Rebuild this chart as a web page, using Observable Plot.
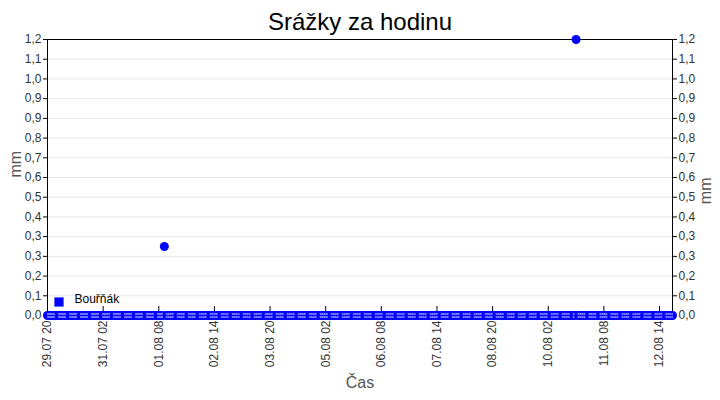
<!DOCTYPE html>
<html>
<head>
<meta charset="utf-8">
<script src="https://cdn.jsdelivr.net/npm/d3@7"></script>
<script src="https://cdn.jsdelivr.net/npm/@observablehq/plot@0.6"></script>
<style>
  body { margin: 0; background: white; font-family: "Liberation Sans", Arial, sans-serif; }
  #title { height: 30px; line-height: 44px; text-align: center; font-size: 24px; color: #000; overflow: visible; }
</style>
</head>
<body>
<div id="title">Srážky za hodinu</div>
<div id="chart"></div>
<script>
const seriesName = 'Bouřňák'
const startHour = '2024-07-29T20:00:00Z'
// hodinové srážky v mm, jeden řádek = jeden den
const rainMm = [
  0,0,0,0, // 29.07 20-23
  0,0,0,0,0,0,0,0,0,0,0,0,0,0,0,0,0,0,0,0,0,0,0,0, // 30.07
  0,0,0,0,0,0,0,0,0,0,0,0,0,0,0,0,0,0,0,0,0,0,0,0, // 31.07
  0,0,0,0,0,0,0,0,0,0,0,0.3,0,0,0,0,0,0,0,0,0,0,0,0, // 01.08
  0,0,0,0,0,0,0,0,0,0,0,0,0,0,0,0,0,0,0,0,0,0,0,0, // 02.08
  0,0,0,0,0,0,0,0,0,0,0,0,0,0,0,0,0,0,0,0,0,0,0,0, // 03.08
  0,0,0,0,0,0,0,0,0,0,0,0,0,0,0,0,0,0,0,0,0,0,0,0, // 04.08
  0,0,0,0,0,0,0,0,0,0,0,0,0,0,0,0,0,0,0,0,0,0,0,0, // 05.08
  0,0,0,0,0,0,0,0,0,0,0,0,0,0,0,0,0,0,0,0,0,0,0,0, // 06.08
  0,0,0,0,0,0,0,0,0,0,0,0,0,0,0,0,0,0,0,0,0,0,0,0, // 07.08
  0,0,0,0,0,0,0,0,0,0,0,0,0,0,0,0,0,0,0,0,0,0,0,0, // 08.08
  0,0,0,0,0,0,0,0,0,0,0,0,0,0,0,0,0,0,0,0,0,0,0,0, // 09.08
  0,0,0,0,0,0,0,0,0,0,0,0,0,0,0,0,0,1.2,0,0,0,0,0,0, // 10.08
  0,0,0,0,0,0,0,0,0,0,0,0,0,0,0,0,0,0,0,0,0,0,0,0, // 11.08
  0,0,0,0,0,0,0,0,0,0,0,0,0,0,0,0,0,0,0,0,0,0 // 12.08 00-21
]
const xTickDates = ['2024-07-29T20:00Z', '2024-07-31T02:00Z', '2024-08-01T08:00Z', '2024-08-02T14:00Z',
  '2024-08-03T20:00Z', '2024-08-05T02:00Z', '2024-08-06T08:00Z', '2024-08-07T14:00Z',
  '2024-08-08T20:00Z', '2024-08-10T02:00Z', '2024-08-11T08:00Z', '2024-08-12T14:00Z']
// 15 značek na ose (popisky zaokrouhlené na 1 desetinné místo)
const yTicks = [0, 0.0857, 0.1714, 0.2571, 0.3429, 0.4286, 0.5143, 0.6, 0.6857, 0.7714, 0.8571, 0.9429, 1.0286, 1.1143, 1.2]

const t0 = Date.parse(startHour)
const data = rainMm.map((v, i) => ({t: new Date(t0 + i * 3600e3), v}))
const xTicks = xTickDates.map(s => new Date(s))
const fmtY = d => d3.format('.1f')(d).replace('.', ',')
const fmtX = d3.utcFormat('%d.%m %H')
// bílá tečkovaná kresba uvnitř značek jen na nulové linii
const zeroOnly = d => d.v === 0 ? 0 : NaN

const chart = Plot.plot({
  width: 720,
  height: 370,
  marginTop: 9,
  marginLeft: 47,
  marginRight: 48,
  marginBottom: 85,
  style: {fontFamily: '"Liberation Sans", Arial, sans-serif', fontSize: '12px', color: '#333', background: 'white'},
  x: {type: 'utc', domain: [data[0].t, data[data.length - 1].t]},
  y: {domain: [0, 1.2]},
  marks: [
    Plot.gridY(yTicks.slice(1, -1), {stroke: '#e8e8e8', strokeOpacity: 1}),
    Plot.axisY(yTicks, {anchor: 'left', tickSize: 4, tickPadding: 2, tickFormat: fmtY, label: null, stroke: 'black'}),
    Plot.axisY(yTicks, {anchor: 'right', tickSize: 4, tickPadding: 2, tickFormat: fmtY, label: null, stroke: 'black'}),
    Plot.axisX(xTicks, {anchor: 'bottom', tickSize: 0, tickPadding: 5, tickRotate: -90, tickFormat: fmtX, label: null}),
    Plot.tickX(xTicks, {x: d => d, insetTop: 267, stroke: 'black'}),
    Plot.frame({stroke: 'black'}),
    Plot.dot(data, {x: 't', y: 'v', r: 4.5, fill: '#0000ff'}),
    Plot.line(data, {x: 't', y: zeroOnly, stroke: 'white', strokeWidth: 1, strokeDasharray: '1 1 1 1 1 1 1 4', dy: -1.5}),
    Plot.line(data, {x: 't', y: zeroOnly, stroke: 'white', strokeWidth: 1, strokeDasharray: '1 1 1 1 1 1 1 4', dy: 1.5}),
    // legenda
    Plot.dot([seriesName], {frameAnchor: 'bottom-left', dx: 11.5, dy: -13.5, symbol: 'square', r: 5.2, fill: '#0000ff'}),
    Plot.text([seriesName], {frameAnchor: 'bottom-left', dx: 27, dy: -13, text: d => d, textAnchor: 'start', fill: 'black', fontSize: 12}),
    // popisky os
    Plot.text(['mm'], {frameAnchor: 'left', dx: -32, rotate: -90, text: d => d, fill: '#555', fontSize: 16}),
    Plot.text(['mm'], {frameAnchor: 'right', dx: 33, rotate: -90, text: d => d, fill: '#555', fontSize: 16}),
    Plot.text(['Čas'], {frameAnchor: 'bottom', dy: 72, text: d => d, fill: '#555', fontSize: 16}),
  ],
})

d3.select('#chart').append(() => chart)
</script>
</body>
</html>
